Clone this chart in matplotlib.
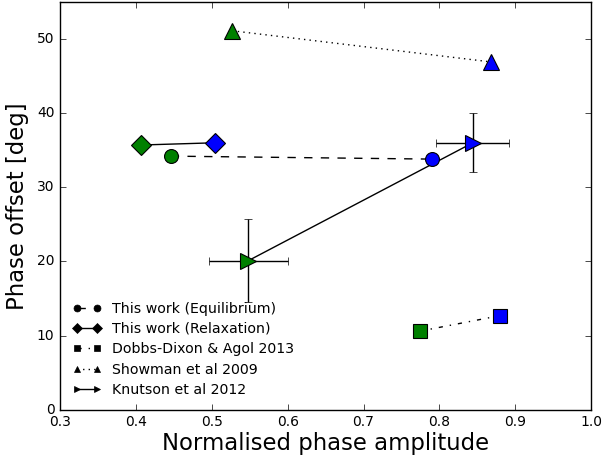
import matplotlib
matplotlib.use("Agg")
import matplotlib.pyplot as plt
from matplotlib.lines import Line2D

plt.style.use("classic")

# Equilibrium and relaxation models (green = first case, blue = second case)
eq_amp = [0.446, 0.790]
eq_off = [34.2, 33.8]
rel_amp = [0.407, 0.504]
rel_off = [35.7, 36.0]
dobbs_amp = [0.774, 0.880]
dobbs_off = [10.6, 12.7]
showman_amp = [0.527, 0.868]
showman_off = [51.1, 46.9]
knutson_amp = [0.548, 0.844]
knutson_off = [20.1, 36.0]
knutson_amp_err = [0.052, 0.048]
knutson_off_err = [5.6, 4.0]

colors = ["green", "blue"]
labels = ["This work (Equilibrium)", "This work (Relaxation)",
          "Dobbs-Dixon & Agol 2013", "Showman et al 2009", "Knutson et al 2012"]

fig = plt.figure(figsize=(6.02, 4.61), dpi=100)
fig.patch.set_facecolor("white")
ax = fig.add_axes([0.0997, 0.111, 0.8823, 0.885])

ax.errorbar(knutson_amp, knutson_off, xerr=knutson_amp_err, yerr=knutson_off_err,
            fmt="none", ecolor="black", elinewidth=1, capsize=3, zorder=1)

series = [
    (eq_amp, eq_off, "o", "--", 10),
    (rel_amp, rel_off, "D", "-", 10),
    (dobbs_amp, dobbs_off, "s", "-.", 10),
    (showman_amp, showman_off, "^", ":", 11),
    (knutson_amp, knutson_off, ">", "-", 12),
]
handles = []
for (xs, ys, mk, ls, ms), lab in zip(series, labels):
    ax.plot(xs, ys, color="black", linestyle=ls, linewidth=1, zorder=2)
    for x, y, c in zip(xs, ys, colors):
        ax.plot([x], [y], marker=mk, markersize=ms, color=c,
                markeredgecolor="black", markeredgewidth=0.8,
                linestyle="none", zorder=3)
    handles.append(Line2D([], [], color="black", linestyle=ls, linewidth=1,
                          marker=mk, markersize=5, markerfacecolor="black"))

ax.legend(handles, labels, loc="lower left", frameon=False, numpoints=2,
          fontsize=10.2, handlelength=2.0, borderaxespad=0.5, labelspacing=0.45)

ax.set_xlim(0.3, 1.0)
ax.set_ylim(0, 55)
ax.set_xticks([0.3, 0.4, 0.5, 0.6, 0.7, 0.8, 0.9, 1.0])
ax.set_yticks([0, 10, 20, 30, 40, 50])
ax.tick_params(labelsize=10)
ax.set_xlabel("Normalised phase amplitude", fontsize=16.4, labelpad=2)
ax.set_ylabel("Phase offset [deg]", fontsize=16.4, labelpad=6)

fig.savefig("out.png", dpi=100, facecolor="white")
